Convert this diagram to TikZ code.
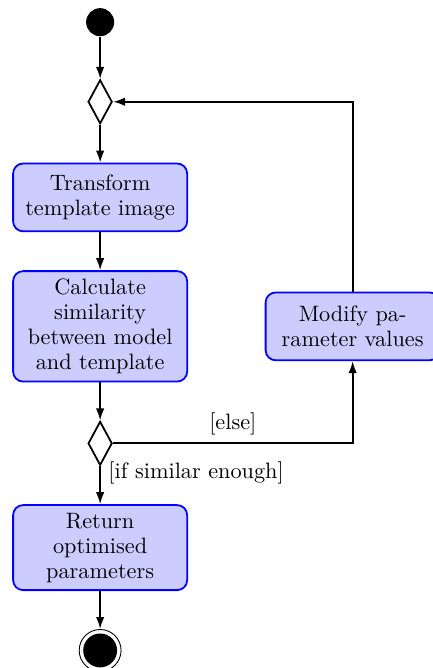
\documentclass[tikz,border=0pt]{standalone}
\usetikzlibrary{shapes.geometric,positioning,arrows.meta}

\begin{document}
\begin{tikzpicture}[node distance=0.6cm, >={Latex[length=5.4pt,width=3.8pt]}, thick,
  activity/.style={rectangle, rounded corners=4.5pt, draw=blue, fill=blue!20,
    font=\fontsize{10}{11.2}\selectfont,
    text width=2.5cm, align=flush center, inner sep=3.5pt, minimum height=1.07cm},
  decision/.style={diamond, draw, minimum width=10.8pt, minimum height=19.7pt, inner sep=0pt},
  startstate/.style={circle, fill, minimum size=12.6pt, inner sep=0pt},
  endstate/.style={circle, draw, thin, minimum size=18.8pt, inner sep=0pt}]
  \useasboundingbox (-1.58,0.35) rectangle (5.24,-10.19);
%main column
  \node[startstate] (start) at (0,0) {};
  \node[decision, below=0.66cm of start] (loop) {};
  \node[activity, below=of loop] (transform) {Transform template image};
  \node[activity, below=of transform] (similarity) {Calculate similarity between model and template};
  \node[decision, below=of similarity] (check) {};
  \node[activity, below=of check] (result) {Return optimised parameters};
  \node[endstate, below=of result] (end) {};
  \fill (end) circle (7.6pt);
%side branch
  \node[activity, right=1.21cm of similarity] (modify) {Modify pa-\\rameter values};
%connectors
  \draw[->] (start) -- (loop);
  \draw[->] (loop) -- (transform);
  \draw[->] (transform) -- (similarity);
  \draw[->] (similarity) -- (check);
  \draw[->] (check) -- (result) node[pos=0.17, right] {[if similar enough]};
  \draw[->] (result) -- (end);
  \draw[->] (check) -| (modify) node[pos=0.25, above] {[else]};
  \draw[->] (modify) |- (loop);
\end{tikzpicture}
\end{document}
